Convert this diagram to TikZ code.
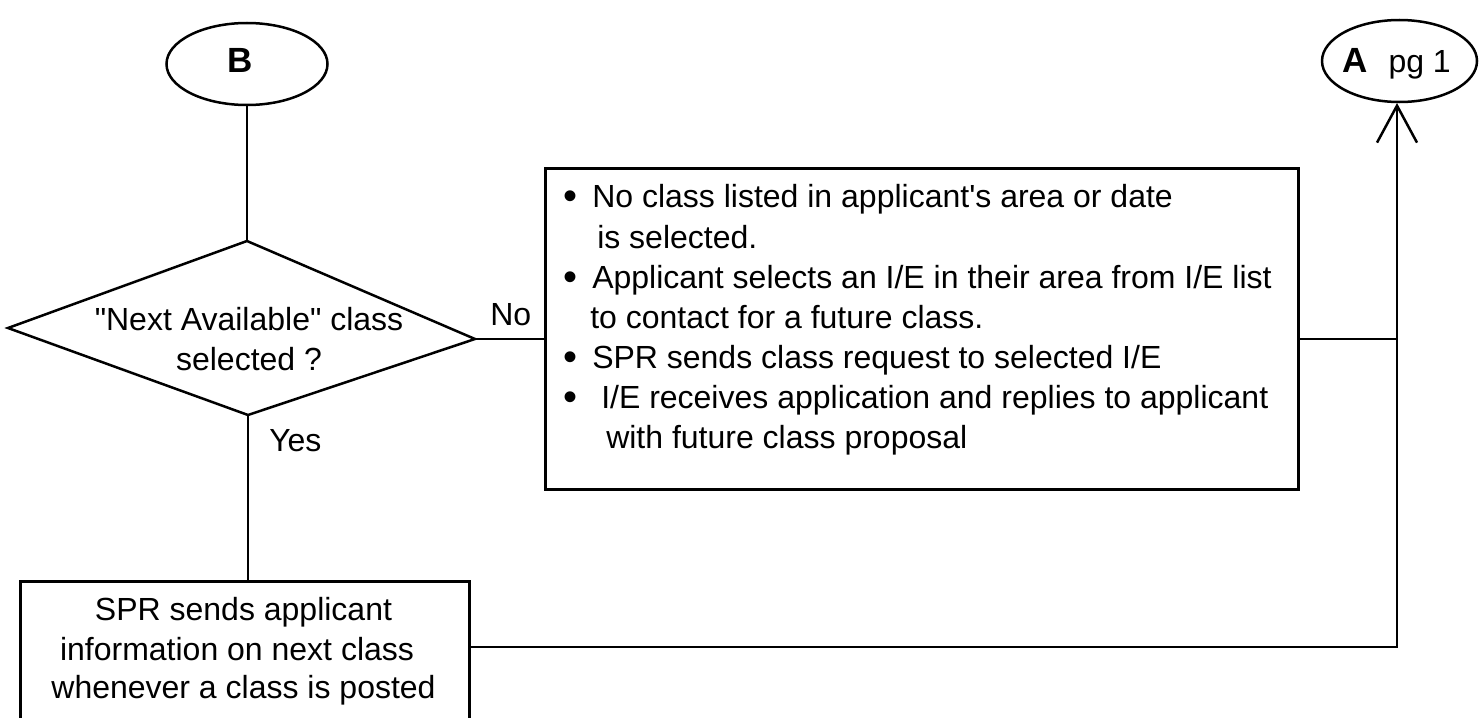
\documentclass[tikz,border=0pt]{standalone}
\usepackage{fontspec}
\setmainfont{Liberation Sans}[Ligatures=TeXOff]
\usetikzlibrary{arrows.meta,shapes.geometric}

\begin{document}
\begin{tikzpicture}[x=1pt,y=-1pt,line width=2.5pt,line join=miter,
  body/.style={font=\fontsize{32}{40}\selectfont,inner sep=0pt},
  line/.style={body,anchor=base west},
  cline/.style={body,anchor=base},
  bullet/.style={line,font=\fontsize{40}{40}\selectfont},
  connector/.style={ellipse,draw,inner sep=0pt},
  boxnode/.style={draw,rectangle,inner sep=0pt,anchor=north west}]
\useasboundingbox (0,0) rectangle (1482,717);
\clip (0,0) rectangle (1482,717);

% off-page connectors
\node[connector,minimum width=161pt,minimum height=82pt] (B) at (247,64) {};
\node[body,anchor=base,font=\fontsize{35}{40}\selectfont\bfseries] (Blbl) at (240.5,72) {B};
\node[connector,minimum width=155pt,minimum height=82pt] (A) at (1399.5,61) {};
\node[line] (Albl) at (1341,72)
  {{\bfseries\fontsize{35}{40}\selectfont A}\hspace{21pt}pg 1};

% decision
\coordinate (dtop) at (247,241);
\coordinate (dright) at (475,339);
\coordinate (dbot) at (248,415);
\coordinate (dleft) at (8,328);
\draw (dtop) -- (dright) -- (dbot) -- (dleft) -- cycle;
\node[cline] (q1) at (249,330) {"Next Available" class};
\node[cline] (q2) at (249,370) {selected ?};
\node[line] (yes) at (268,451) {Yes};
\node[line] (no) at (489,325) {No};

% process boxes
\node[boxnode,minimum width=753pt,minimum height=321pt] (big) at (544,167) {};
\node[boxnode,minimum width=449pt,minimum height=170pt] (bot) at (19,580) {};

% list in the "No" branch
\node[bullet] (b1) at (562,209) {•};
\node[line] (t1) at (591,207) {No class listed in applicant's area or date};
\node[line] (t2) at (596,248) {is selected.};
\node[bullet] (b3) at (562,290) {•};
\node[line] (t3) at (591,288) {Applicant selects an I/E in their area from I/E list};
\node[line] (t4) at (589,328) {to contact for a future class.};
\node[bullet] (b5) at (562,370) {•};
\node[line] (t5) at (591,368) {SPR sends class request to selected I/E};
\node[bullet] (b6) at (562,410) {•};
\node[line] (t6) at (600,408) {I/E receives application and replies to applicant};
\node[line] (t7) at (605,448) {with future class proposal};

% text of the "Yes" branch
\node[cline] (s1) at (243.5,620) {SPR sends applicant};
\node[cline] (s2) at (237,660) {information on next class};
\node[cline] (s3) at (243.5,698) {whenever a class is posted};

% connectors
\coordinate (trunk) at (1397,647);
\coordinate (atip) at (1397,103);
\draw (B.south) -- (dtop);
\draw (dbot) -- (dbot |- bot.north);
\draw (dright) -- (dright -| big.west);
\draw (big.east |- dright) -- (dright -| trunk);
\draw[-{Straight Barb[length=37pt,width=40pt]}] (bot.east |- trunk) -- (trunk) -- (atip);
\end{tikzpicture}
\end{document}
